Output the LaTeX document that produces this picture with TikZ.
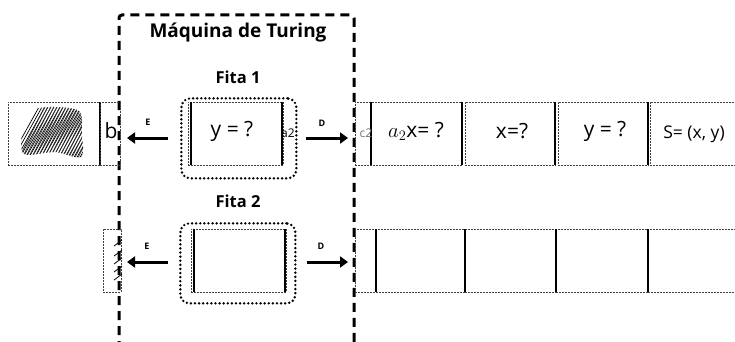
\documentclass[tikz,border=0pt]{standalone}
\usepackage{fontspec}
\setmainfont{Open Sans}
\usetikzlibrary{arrows.meta}
\begin{document}
\begin{tikzpicture}[x=1pt,y=-1pt,
  cellb/.style={draw=black!75, dash pattern=on 2pt off 1pt, line width=0.6pt, inner sep=0pt, outer sep=0pt, anchor=north west},
  sep/.style={line width=1.3pt},
  septhick/.style={line width=2pt},
  headframe/.style={draw, line width=2.7pt, dash pattern=on 0pt off 4.1pt, line cap=round, rounded corners=9pt, inner sep=0pt, anchor=north west},
  mv/.style={line width=3pt, -{Triangle[length=8pt,width=11pt]}},
  lbl/.style={font=\fontsize{9}{10}\selectfont\bfseries},
  txt/.style={font=\fontsize{21}{23}\selectfont, inner sep=0pt},
  small/.style={font=\fontsize{12}{13}\selectfont, inner sep=0pt},
  ttl/.style={font=\fontsize{19}{21}\selectfont\bfseries},
  fita/.style={font=\fontsize{16.5}{18}\selectfont\bfseries},
  machine/.style={line width=3pt, dash pattern=on 9pt off 6pt, rounded corners=3pt},
  hatch/.style={line width=0.7pt, line cap=round},
]
\useasboundingbox (0,0) rectangle (735,342);
\clip (0,0) rectangle (735,342);

% machine box
\draw[machine] (119,350) -- (119,15) -- (354,15) -- (354,350);
\node[ttl] (title) at (238,33) {Máquina de Turing};
\node[fita] (fita1) at (238,77) {Fita 1};
\node[fita] (fita2) at (238,201) {Fita 2};

% ---------- Tape 1 ----------
\node[cellb, minimum width=92pt, minimum height=63pt] (t1c0) at (8,102) {};
\begin{scope}
  \clip plot[smooth cycle] coordinates {(27,112) (50,107) (79,111) (82,134) (81,157) (55,152) (24,154) (22,131)};
  \foreach \i in {0,...,32} \draw[hatch] (4+\i*3.0,170) -- ++(40,-72);
  \foreach \i in {0,...,24} \draw[hatch, black!80] (14+\i*3.1,168) -- ++(34,-68);
\end{scope}
\draw[sep] (t1c0.north east) -- (t1c0.south east);
\node[cellb, minimum width=20pt, minimum height=63pt] (t1cb) at (100,102) {};
\node[txt] (tb) at (111,131) {b};

\node[cellb, minimum width=95pt, minimum height=63pt] (t1h) at (188,102) {};
\draw[sep] ([xshift=3pt]t1h.north west) -- ([xshift=3pt]t1h.south west);
\draw[sep] ([xshift=-1pt]t1h.north east) -- ([xshift=-1pt]t1h.south east);
\node[txt] (t1hv) at (232,131) {y = ?};
\node[small] (a2) at (288,133) {a2};
\node[headframe, minimum width=115pt, minimum height=80pt] (f1) at (180,97) {};

\node[cellb, minimum width=107pt, minimum height=63pt] (t1r1) at (355,102) {};
\draw[sep] (371,102) -- (371,165);
\draw[sep] (t1r1.north east) -- (t1r1.south east);
\node[small, text=black!55] (c2) at (366,133) {c2};
\node[txt] (t1r1v) at (416,131) {$a_2$x= ?};
\node[cellb, minimum width=90pt, minimum height=63pt] (t1r2) at (465,102) {};
\node[txt] (t1r2v) at (512,131) {x=?};
\node[cellb, minimum width=90pt, minimum height=63pt] (t1r3) at (558,102) {};
\draw[septhick] ([xshift=-3pt]t1r3.north west) -- ([xshift=-3pt]t1r3.south west);
\node[txt] (t1r3v) at (605,131) {y = ?};
\node[cellb, minimum width=90pt, minimum height=63pt] (t1r4) at (650,102) {};
\draw[septhick] ([xshift=-2pt]t1r4.north west) -- ([xshift=-2pt]t1r4.south west);
\node[txt, font=\fontsize{17.5}{19}\selectfont] (t1r4v) at (694,134) {S= (x, y)};

\coordinate (e1s) at (168,138);
\coordinate (e1t) at (127,138);
\draw[mv] (e1s) -- (e1t);
\node[lbl] (e1l) at (148,122) {E};
\coordinate (d1s) at (306,138);
\coordinate (d1t) at (348,138);
\draw[mv] (d1s) -- (d1t);
\node[lbl] (d1l) at (322,123) {D};

% ---------- Tape 2 ----------
\node[cellb, minimum width=18pt, minimum height=63pt] (t2c0) at (103,229) {};
\foreach \yy in {240,250,258,266,274} \draw[line width=0.8pt] (114,\yy+6) -- (122,\yy);

\node[cellb, minimum width=95pt, minimum height=63pt] (t2h) at (191,229) {};
\draw[sep] ([xshift=3pt]t2h.north west) -- ([xshift=3pt]t2h.south west);
\draw[sep] ([xshift=-1pt]t2h.north east) -- ([xshift=-1pt]t2h.south east);
\node[headframe, minimum width=115pt, minimum height=80pt] (f2) at (179,222) {};

\node[cellb, minimum width=110pt, minimum height=63pt] (t2r1) at (355,229) {};
\node[cellb, minimum width=91pt, minimum height=63pt] (t2r2) at (465,229) {};
\node[cellb, minimum width=92pt, minimum height=63pt] (t2r3) at (556,229) {};
\node[cellb, minimum width=92pt, minimum height=63pt] (t2r4) at (648,229) {};
\draw[sep] (376,229) -- (376,292);
\draw[sep] (t2r2.north west) -- (t2r2.south west);
\draw[septhick] (t2r3.north west) -- (t2r3.south west);
\draw[septhick] (t2r4.north west) -- (t2r4.south west);

\coordinate (e2s) at (168,262);
\coordinate (e2t) at (127,262);
\draw[mv] (e2s) -- (e2t);
\node[lbl] (e2l) at (147,246) {E};
\coordinate (d2s) at (307,262);
\coordinate (d2t) at (348,262);
\draw[mv] (d2s) -- (d2t);
\node[lbl] (d2l) at (321,246) {D};
\end{tikzpicture}
\end{document}
